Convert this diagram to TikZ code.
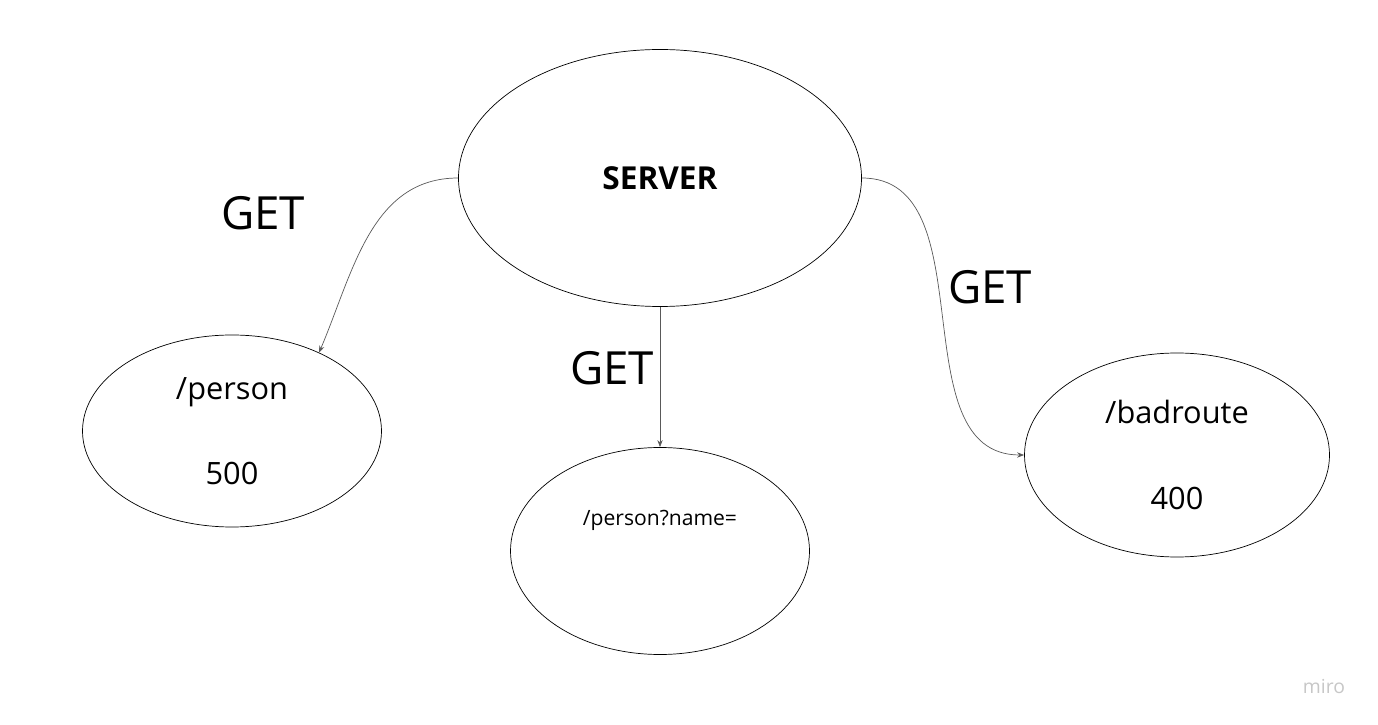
\documentclass[tikz,border=0pt]{standalone}
\usepackage{fontspec}
\setmainfont{Open Sans}
\usetikzlibrary{shapes.geometric,arrows.meta}
\tikzset{
	route/.style={draw, ellipse, inner sep=0pt, align=center, line width=0.4pt},
	call/.style={draw=black!65, line width=0.4pt, -{Stealth[length=4pt,width=3pt]}},
	verb/.style={font=\fontsize{26}{30}\selectfont}
}
\begin{document}
\begin{tikzpicture}
				\useasboundingbox (0,0) rectangle (27.56,-14.5);

				\node (Server) [route, minimum width=8.06cm, minimum height=5.14cm, font=\bfseries\fontsize{18}{22}\selectfont] at (13.2, -3.56) {SERVER};

				\node (Person) [route, minimum width=5.98cm, minimum height=3.84cm, font=\fontsize{17.5}{48.4}\selectfont] at (4.64, -8.62) {/person\\500};
				\draw [call] (Server.west) to[out=180, in=67] (Person.42);
				\node (GetPerson) [verb] at (5.26, -4.26) {GET};

				\node (Query) [route, minimum width=5.98cm, minimum height=4.14cm] at (13.2, -11.02) {};
				\node (QueryText) [font=\fontsize{12}{14}\selectfont] at (13.2, -10.4) {/person?name=};
				\draw [call] (Server.south) -- (Query.north);
				\node (GetQuery) [verb] at (12.24, -7.36) {GET};

				\node (Bad) [route, minimum width=6.1cm, minimum height=4.08cm, font=\fontsize{17.5}{49}\selectfont] at (23.54, -9.1) {/badroute\\400};
				\draw [call] (Server.east) to[out=0, in=180] (Bad.west);
				\node (GetBad) [verb] at (19.8, -5.74) {GET};

				\node (Mark) [text=black!22, font=\fontsize{11}{13}\selectfont] at (26.48, -13.72) {miro};
			\end{tikzpicture}
\end{document}
